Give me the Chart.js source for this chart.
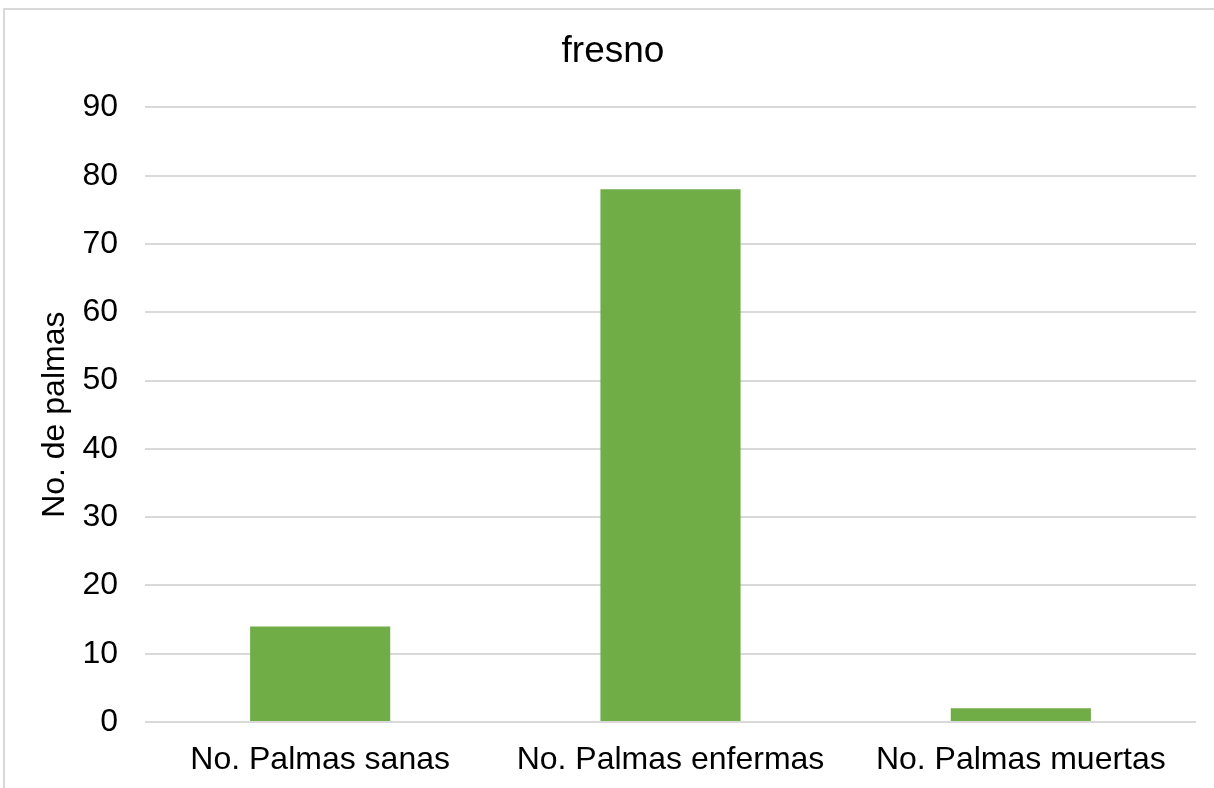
<!DOCTYPE html>
<html>
<head>
<meta charset="utf-8">
<script src="https://cdn.jsdelivr.net/npm/chart.js@4"></script>
<style>
  html, body { margin: 0; padding: 0; background: #fff; }
  body { width: 1214px; height: 788px; position: relative; overflow: hidden; }
  #frame { position: absolute; left: 3px; top: 8px; width: 1230px; height: 800px; border: 2px solid #d9d9d9; box-sizing: border-box; }
  #wrap { position: absolute; left: 0; top: 0; width: 1214px; height: 788px; }
</style>
</head>
<body>
<div id="frame"></div>
<div id="wrap"><canvas id="chart"></canvas></div>
<script>
// 類別與數值
const categories = ['No. Palmas sanas', 'No. Palmas enfermas', 'No. Palmas muertas'];
const palmCounts = [14, 78, 2];
const yTicks = [0, 10, 20, 30, 40, 50, 60, 70, 80, 90];

const fontFamily = "'Liberation Sans', Arial, sans-serif";

new Chart(document.getElementById('chart'), {
    type: 'bar',
    data: {
        labels: categories,
        datasets: [{
            label: 'fresno',
            data: palmCounts,
            backgroundColor: '#70ad47',
            barPercentage: 0.4,
            categoryPercentage: 1.0
        }]
    },
    options: {
        responsive: true,
        maintainAspectRatio: false,
        animation: false,
        layout: { padding: { left: 30, right: 18, top: 24, bottom: 9 } },
        scales: {
            x: {
                afterFit: axis => { axis.height = 57; },
                grid: { display: false, drawTicks: false },
                border: { display: false },
                ticks: { color: '#000', font: { family: fontFamily, size: 32 }, padding: 19, maxRotation: 0 }
            },
            y: {
                min: 0,
                max: 90,
                afterBuildTicks: axis => { axis.ticks = yTicks.map(v => ({ value: v })); },
                afterFit: axis => { axis.width = 115; },
                grid: { color: '#d9d9d9', lineWidth: 2, drawTicks: false },
                border: { display: false },
                title: { display: true, text: 'No. de palmas', color: '#000', font: { family: fontFamily, size: 32 }, padding: { top: 6, bottom: 7 } },
                ticks: { color: '#000', font: { family: fontFamily, size: 32 }, padding: 27 }
            }
        },
        plugins: {
            legend: { display: false },
            tooltip: { enabled: false },
            title: {
                display: true,
                text: 'fresno',
                color: '#000',
                font: { family: fontFamily, size: 37, weight: 'normal' },
                padding: { top: 6, bottom: 33 }
            }
        }
    }
});
</script>
</body>
</html>
